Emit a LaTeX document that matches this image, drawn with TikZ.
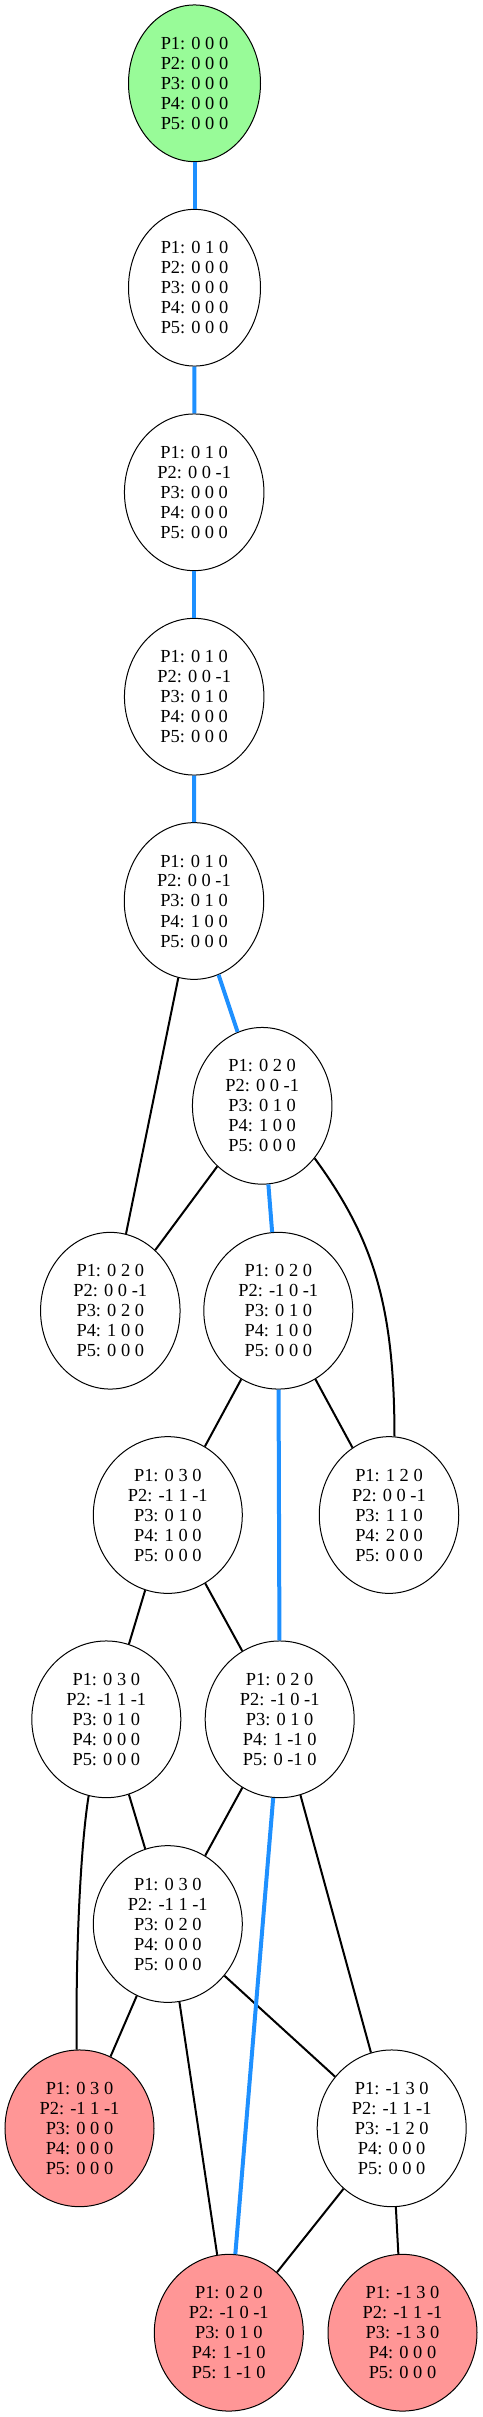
\documentclass[tikz,border=0pt]{standalone}
\usepackage{fontspec}
\setmainfont{Liberation Serif}
\usetikzlibrary{shapes.geometric}
\definecolor{stgreen}{RGB}{152,251,152}
\definecolor{stred}{RGB}{255,150,150}
\definecolor{pathblue}{RGB}{30,144,255}
\newcommand\ptxt[5]{P1: #1\\P2: #2\\P3: #3\\P4: #4\\P5: #5}
\tikzset{
  state/.style={ellipse, draw=black, line width=1pt, inner sep=0pt,
    minimum height=156.7pt, align=center, font=\fontsize{18.4}{20}\selectfont},
  nw/.style={minimum width=132pt},
  mw/.style={minimum width=139.5pt},
  ww/.style={minimum width=149pt},
  startst/.style={fill=stgreen},
  endst/.style={fill=stred},
  plain/.style={line width=2pt, black},
  best/.style={line width=4pt, pathblue}
}
\begin{document}
\begin{tikzpicture}[x=1pt,y=1pt]
\useasboundingbox (0,0) rectangle (482,-2417);
\node[state,nw,startst] (A) at (194.5,-83.3) {\ptxt{0 0 0}{0 0 0}{0 0 0}{0 0 0}{0 0 0}};
\node[state,nw] (B) at (194.5,-287.7) {\ptxt{0 1 0}{0 0 0}{0 0 0}{0 0 0}{0 0 0}};
\node[state,mw] (C) at (194.2,-492.3) {\ptxt{0 1 0}{0 0 -1}{0 0 0}{0 0 0}{0 0 0}};
\node[state,mw] (D) at (194.2,-696.7) {\ptxt{0 1 0}{0 0 -1}{0 1 0}{0 0 0}{0 0 0}};
\node[state,mw] (E) at (194,-901) {\ptxt{0 1 0}{0 0 -1}{0 1 0}{1 0 0}{0 0 0}};
\node[state,mw] (F) at (262.2,-1105.8) {\ptxt{0 2 0}{0 0 -1}{0 1 0}{1 0 0}{0 0 0}};
\node[state,mw] (G) at (110.3,-1310.7) {\ptxt{0 2 0}{0 0 -1}{0 2 0}{1 0 0}{0 0 0}};
\node[state,ww] (H) at (278.3,-1310.7) {\ptxt{0 2 0}{-1 0 -1}{0 1 0}{1 0 0}{0 0 0}};
\node[state,ww] (I) at (167.8,-1515) {\ptxt{0 3 0}{-1 1 -1}{0 1 0}{1 0 0}{0 0 0}};
\node[state,mw] (J) at (389,-1515) {\ptxt{1 2 0}{0 0 -1}{1 1 0}{2 0 0}{0 0 0}};
\node[state,ww] (K) at (106.3,-1719.3) {\ptxt{0 3 0}{-1 1 -1}{0 1 0}{0 0 0}{0 0 0}};
\node[state,ww] (L) at (279.7,-1719.3) {\ptxt{0 2 0}{-1 0 -1}{0 1 0}{1 -1 0}{0 -1 0}};
\node[state,ww] (M) at (167.8,-1924) {\ptxt{0 3 0}{-1 1 -1}{0 2 0}{0 0 0}{0 0 0}};
\node[state,ww,endst] (N) at (79.5,-2128.3) {\ptxt{0 3 0}{-1 1 -1}{0 0 0}{0 0 0}{0 0 0}};
\node[state,ww] (O) at (391.7,-2128.3) {\ptxt{-1 3 0}{-1 1 -1}{-1 2 0}{0 0 0}{0 0 0}};
\node[state,ww,endst] (P) at (228.8,-2332.7) {\ptxt{0 2 0}{-1 0 -1}{0 1 0}{1 -1 0}{1 -1 0}};
\node[state,ww,endst] (Q) at (402.5,-2332.7) {\ptxt{-1 3 0}{-1 1 -1}{-1 3 0}{0 0 0}{0 0 0}};
% black edges
\draw[plain] (E) -- (G);
\draw[plain] (F) -- (G);
\draw[plain] (F.-45) .. controls (374,-1239.3) and (394.3,-1306.7) .. (J.86);
\draw[plain] (H) -- (I);
\draw[plain] (H) -- (J);
\draw[plain] (I) -- (K);
\draw[plain] (I) -- (L);
\draw[plain] (K.-103) .. controls (80,-1850) and (75.5,-1960) .. (N.92);
\draw[plain] (K) -- (M);
\draw[plain] (L) -- (M);
\draw[plain] (L) -- (O);
\draw[plain] (M) -- (N);
\draw[plain] (M) -- (P);
\draw[plain] (M) -- (O);
\draw[plain] (O) -- (P);
\draw[plain] (O) -- (Q);
% blue path
\draw[best] (A) -- (B);
\draw[best] (B) -- (C);
\draw[best] (C) -- (D);
\draw[best] (D) -- (E);
\draw[best] (E) -- (F);
\draw[best] (F) -- (H);
\draw[best] (H) -- (L);
\draw[best] (L) -- (P);
\end{tikzpicture}
\end{document}
